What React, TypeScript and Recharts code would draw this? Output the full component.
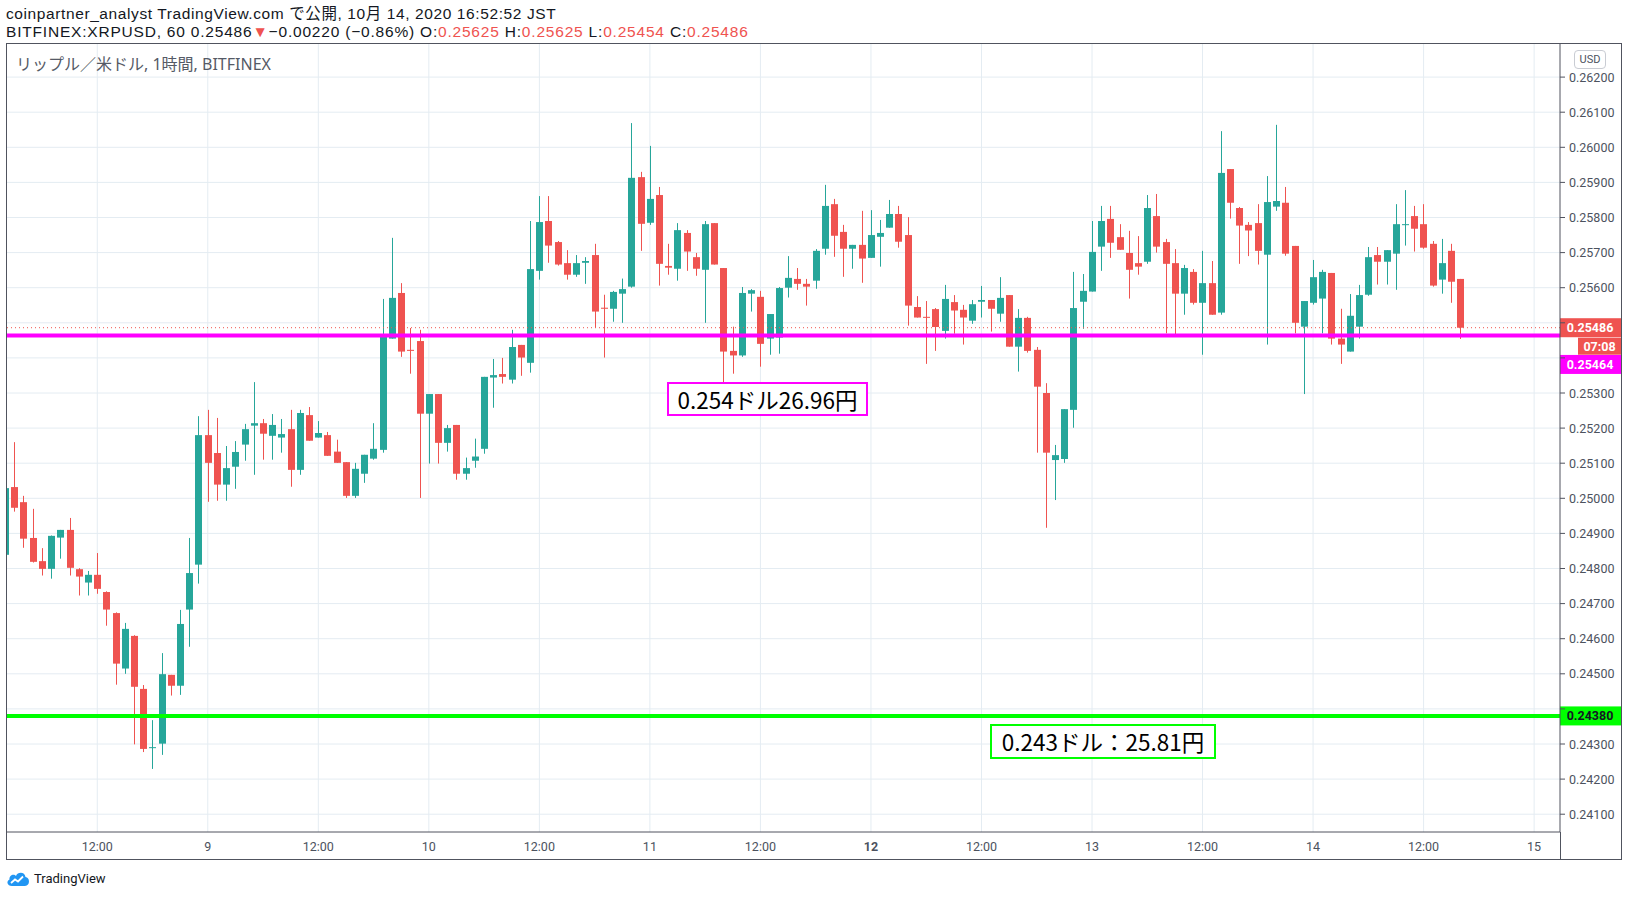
import React from "react";
import {
  ComposedChart,
  Bar,
  XAxis,
  YAxis,
  CartesianGrid,
  ReferenceLine,
} from "recharts";

// hourly candles, first one is 2020-10-08 02:00 JST
// hour offsets are counted from 10/8 12:00
const FIRST_HOUR = -10;

const opens = [
  // 10/8 02:00 - 23:00
  0.24839, 0.25032, 0.24989, 0.24887, 0.24821, 0.24799, 0.24888, 0.2491, 0.24798, 0.2476, 0.24782,
  0.24733, 0.24673, 0.24515, 0.24608, 0.24457, 0.24289, 0.24301, 0.24497, 0.24466, 0.24683, 0.24811,
  // 10/9
  0.2518, 0.25129, 0.25039, 0.2509, 0.25153, 0.25207, 0.25214, 0.25178, 0.25173, 0.25197, 0.25081, 0.25237,
  0.25173, 0.2518, 0.25133, 0.25103, 0.25007, 0.2507, 0.25113, 0.25138, 0.25455, 0.25585, 0.25423, 0.25448,
  // 10/10
  0.25241, 0.25297, 0.25158, 0.25209, 0.2507, 0.25107, 0.25141, 0.25344, 0.25354, 0.25338, 0.25437, 0.25386,
  0.25648, 0.2579, 0.2573, 0.2567, 0.25637, 0.25671, 0.25693, 0.25543, 0.2554, 0.25583, 0.25603, 0.25915,
  // 10/11
  0.25785, 0.25864, 0.25662, 0.25654, 0.25756, 0.25687, 0.25651, 0.25784, 0.25656, 0.2542, 0.25407, 0.25583,
  0.25574, 0.25455, 0.25458, 0.256, 0.25625, 0.25611, 0.2562, 0.25711, 0.25838, 0.25759, 0.25711, 0.25722,
  // 10/12
  0.25685, 0.25745, 0.25771, 0.2581, 0.2575, 0.25545, 0.25517, 0.25539, 0.25477, 0.25559, 0.25537, 0.25506,
  0.2556, 0.25565, 0.25526, 0.25579, 0.25432, 0.25514, 0.25423, 0.253, 0.25109, 0.25112, 0.25252, 0.2556,
  // 10/13
  0.25589, 0.25717, 0.25796, 0.25744, 0.25699, 0.2567, 0.25674, 0.25804, 0.2573, 0.2567, 0.25583, 0.25645,
  0.25557, 0.25613, 0.25529, 0.25938, 0.25827, 0.25779, 0.25784, 0.25694, 0.25831, 0.25842, 0.25719, 0.25489,
  // 10/14 00:00 - 16:00
  0.25557, 0.25569, 0.25642, 0.25455, 0.25418, 0.25489, 0.2558, 0.25693, 0.25674, 0.25697, 0.2578, 0.25804,
  0.25781, 0.25725, 0.25623, 0.25705, 0.25625,
];

const highs = [
  0.25035, 0.2516, 0.25007, 0.2497, 0.24858, 0.24894, 0.2491, 0.24944, 0.24801, 0.24793, 0.24844,
  0.24735, 0.24675, 0.24645, 0.2461, 0.24468, 0.24368, 0.24559, 0.24497, 0.24682, 0.24887, 0.25234,
  0.25252, 0.25229, 0.25149, 0.25163, 0.25212, 0.25331, 0.25226, 0.2524, 0.25226, 0.25252, 0.25252, 0.2526,
  0.2522, 0.25189, 0.25167, 0.25103, 0.25101, 0.25124, 0.25214, 0.25568, 0.25742, 0.25613, 0.25485, 0.2548,
  0.25297, 0.25297, 0.25209, 0.25209, 0.25116, 0.2517, 0.25346, 0.25397, 0.254, 0.2548, 0.25437, 0.2579,
  0.25861, 0.25861, 0.25733, 0.25707, 0.25693, 0.25687, 0.25725, 0.2558, 0.25591, 0.25626, 0.26069, 0.2593,
  0.26004, 0.25887, 0.25725, 0.25784, 0.25764, 0.25699, 0.2579, 0.25784, 0.25656, 0.25489, 0.25602, 0.25596,
  0.25591, 0.25525, 0.25602, 0.2569, 0.25656, 0.25625, 0.2571, 0.25893, 0.25853, 0.25779, 0.25722, 0.25819,
  0.25821, 0.25793, 0.2585, 0.25833, 0.25801, 0.25576, 0.25562, 0.25542, 0.25608, 0.25579, 0.25551, 0.25565,
  0.25605, 0.25565, 0.2563, 0.25579, 0.25539, 0.25517, 0.25431, 0.25328, 0.25152, 0.25254, 0.25645, 0.25639,
  0.2579, 0.25833, 0.25833, 0.25781, 0.25762, 0.25747, 0.25864, 0.25867, 0.25739, 0.2571, 0.25665, 0.25653,
  0.25705, 0.25676, 0.26046, 0.25938, 0.2583, 0.25787, 0.25838, 0.25918, 0.26064, 0.25887, 0.25719, 0.25562,
  0.25679, 0.25651, 0.25642, 0.2554, 0.25582, 0.25608, 0.25716, 0.25716, 0.25707, 0.25838, 0.25878, 0.25833,
  0.25838, 0.25733, 0.25739, 0.25725, 0.25625,
];

const lows = [
  0.24836, 0.24962, 0.24859, 0.24817, 0.2478, 0.24771, 0.24828, 0.2478, 0.24723, 0.24723, 0.24728,
  0.24637, 0.24469, 0.245, 0.24299, 0.24277, 0.24229, 0.24269, 0.24438, 0.2444, 0.24577, 0.24757,
  0.2499, 0.24993, 0.24993, 0.25027, 0.25107, 0.25067, 0.2511, 0.2511, 0.2513, 0.25033, 0.25067, 0.25164,
  0.25173, 0.25121, 0.25101, 0.25001, 0.25001, 0.25044, 0.2511, 0.2513, 0.25455, 0.25403, 0.25355, 0.25001,
  0.25099, 0.25099, 0.25133, 0.25053, 0.25053, 0.25087, 0.25127, 0.25258, 0.25327, 0.25327, 0.25349, 0.25358,
  0.25623, 0.25671, 0.25663, 0.25623, 0.25631, 0.25611, 0.25486, 0.25401, 0.25503, 0.255, 0.256, 0.25705,
  0.25779, 0.25606, 0.25637, 0.2562, 0.25648, 0.25634, 0.255, 0.25666, 0.25313, 0.25355, 0.25403, 0.25532,
  0.25375, 0.25409, 0.25412, 0.25572, 0.25594, 0.25549, 0.25597, 0.25694, 0.25688, 0.25631, 0.25654, 0.25614,
  0.25685, 0.2566, 0.25771, 0.25714, 0.25492, 0.25515, 0.25383, 0.2542, 0.25455, 0.25469, 0.25438, 0.25497,
  0.25515, 0.25475, 0.25503, 0.25432, 0.25361, 0.25415, 0.2513, 0.24916, 0.24995, 0.25101, 0.25201, 0.25483,
  0.25589, 0.25648, 0.25685, 0.25708, 0.25569, 0.25637, 0.25668, 0.257, 0.2547, 0.25465, 0.25523, 0.25552,
  0.25409, 0.25523, 0.25523, 0.25797, 0.25668, 0.2569, 0.25666, 0.25438, 0.25819, 0.25691, 0.2547, 0.25297,
  0.25552, 0.2547, 0.25438, 0.25383, 0.25418, 0.25455, 0.25577, 0.25609, 0.25609, 0.25594, 0.2572, 0.25703,
  0.25711, 0.25603, 0.25583, 0.25557, 0.25454,
];

const closes = [
  0.25029, 0.24973, 0.24885, 0.24819, 0.24799, 0.24893, 0.2491, 0.24802, 0.24777, 0.24782, 0.24742,
  0.24683, 0.24529, 0.24628, 0.24463, 0.24286, 0.24291, 0.24499, 0.24466, 0.24642, 0.24787, 0.2518,
  0.25101, 0.25039, 0.25086, 0.25132, 0.25197, 0.25214, 0.25184, 0.25209, 0.25183, 0.25081, 0.25243, 0.25164,
  0.25186, 0.25121, 0.25101, 0.25007, 0.25084, 0.25124, 0.25141, 0.2546, 0.25571, 0.25418, 0.2542, 0.25241,
  0.25297, 0.25158, 0.252, 0.2507, 0.25086, 0.25119, 0.25346, 0.25351, 0.25346, 0.25431, 0.25401, 0.25653,
  0.25787, 0.2572, 0.25666, 0.25637, 0.2567, 0.25676, 0.25532, 0.2554, 0.25588, 0.25596, 0.25913, 0.25782,
  0.25853, 0.25668, 0.25657, 0.25764, 0.25703, 0.25654, 0.25781, 0.25666, 0.25418, 0.25407, 0.25585, 0.25593,
  0.2544, 0.25525, 0.25599, 0.25628, 0.25611, 0.25603, 0.25705, 0.25833, 0.25748, 0.25711, 0.25722, 0.25683,
  0.2575, 0.25756, 0.2581, 0.25731, 0.25549, 0.25515, 0.25515, 0.25488, 0.25568, 0.25535, 0.25515, 0.25553,
  0.25565, 0.2554, 0.25571, 0.25432, 0.25514, 0.2542, 0.25318, 0.2513, 0.25123, 0.25254, 0.25542, 0.25591,
  0.25702, 0.2579, 0.25728, 0.25708, 0.25651, 0.2566, 0.25827, 0.25717, 0.25668, 0.25583, 0.25656, 0.25557,
  0.25613, 0.25523, 0.25927, 0.25842, 0.25777, 0.25763, 0.25705, 0.25844, 0.25847, 0.25697, 0.255, 0.25562,
  0.2563, 0.25645, 0.25455, 0.25438, 0.2552, 0.25579, 0.25687, 0.25674, 0.25707, 0.25781, 0.25781, 0.25768,
  0.25714, 0.25606, 0.2567, 0.25617, 0.25486,
];

const timeTicks = [0, 12, 24, 36, 48, 60, 72, 84, 96, 108, 120, 132, 144, 156];
const timeLabels = ["12:00", "9", "12:00", "10", "12:00", "11", "12:00", "12", "12:00", "13", "12:00", "14", "12:00", "15"];
const priceTicks = [
  0.241, 0.242, 0.243, 0.244, 0.245, 0.246, 0.247, 0.248, 0.249, 0.25, 0.251,
  0.252, 0.253, 0.254, 0.255, 0.256, 0.257, 0.258, 0.259, 0.26, 0.261, 0.262,
];
// covered by the price tags on the axis
const hiddenTicks = [0.244, 0.254, 0.255];

const LAST_PRICE = 0.25486;
const SUPPORT_HIGH = 0.25464;
const SUPPORT_LOW = 0.2438;

const UP = "#26a69a";
const DOWN = "#ef5350";
const MAGENTA = "#ff00ff";
const LIME = "#00ff00";
const GRID = "#e4ecf2";
const TEXT = "#4c525e";
const FONT = 'Roboto, "Noto Sans", "Noto Sans CJK JP", sans-serif';
const HEAD_FONT = '"Liberation Sans", "Noto Sans CJK JP", sans-serif';
const LEGEND_FONT = '"Noto Sans", "Noto Sans CJK JP", sans-serif';
const JP_FONT = '"Noto Sans CJK JP", "Noto Sans", sans-serif';

const data = opens.map((o, i) => ({
  t: FIRST_HOUR + i,
  o,
  h: highs[i],
  l: lows[i],
  c: closes[i],
  range: [lows[i], highs[i]],
}));

function Candle(props: any) {
  const { x, y, width, height, payload } = props;
  if (!payload || height == null) return null;
  const { o, h, l, c } = payload;
  const color = c >= o ? UP : DOWN;
  const cx = Math.round(x + width / 2) + 0.5;
  const k = h - l > 0 ? height / (h - l) : 0;
  const top = y + (h - Math.max(o, c)) * k;
  const bottom = y + (h - Math.min(o, c)) * k;
  return (
    <g>
      <line x1={cx} x2={cx} y1={y} y2={y + height} stroke={color} strokeWidth={1} />
      <rect x={cx - 3.5} y={top} width={7} height={Math.max(1, bottom - top)} fill={color} />
    </g>
  );
}

function PriceTag(props: any) {
  const { viewBox, text, bg, fg, shift = 0, countdown } = props;
  if (!viewBox) return null;
  const ax = viewBox.x + viewBox.width;
  const cy = viewBox.y + shift;
  return (
    <g>
      <rect x={ax} y={cy - 9.5} width={61} height={19} fill={bg} />
      <text x={ax + 30} y={cy + 4.5} textAnchor="middle" fill={fg} fontSize={12.5} fontWeight={700} fontFamily={FONT}>
        {text}
      </text>
      {countdown && (
        <g>
          <rect x={ax + 18} y={cy + 10} width={43} height={17} fill={bg} />
          <text x={ax + 39.5} y={cy + 23} textAnchor="middle" fill={fg} fontSize={12.5} fontWeight={700} fontFamily={FONT}>
            {countdown}
          </text>
        </g>
      )}
    </g>
  );
}

function PriceTick(props: any) {
  const { x, y, payload } = props;
  if (hiddenTicks.some((v) => Math.abs(v - payload.value) < 1e-7)) return <g />;
  return (
    <text x={x} y={y + 4.5} fill={TEXT} fontSize={12.5} fontFamily={FONT} textAnchor="start">
      {payload.value.toFixed(5)}
    </text>
  );
}

function TimeTick(props: any) {
  const { x, y, payload } = props;
  const i = timeTicks.indexOf(payload.value);
  const label = timeLabels[i];
  return (
    <text x={x} y={y + 11} fill={TEXT} fontSize={12.5} fontFamily={FONT} textAnchor="middle" fontWeight={label === "12" ? 700 : 400}>
      {label}
    </text>
  );
}

function Logo() {
  return (
    <svg width={26} height={18} viewBox="0 0 26 18" style={{ position: "absolute", left: 5, top: 870 }}>
      <path d="M7 16 C2 16 1 11 4.5 9.5 C4 5 9 3.5 11 6 C12.5 1.5 20 1.5 20.5 7 C25 7 25.5 16 20 16 Z" fill="#2196f3" />
      <path d="M6 13 L10 9.5 L13 11.5 L18 6.5" stroke="#fff" strokeWidth={1.8} fill="none" />
    </svg>
  );
}

export default function App() {
  return (
    <div style={{ position: "absolute", left: 0, top: 0, width: 1627, height: 898, background: "#fff", fontFamily: FONT, overflow: "hidden" }}>
      <div
        style={{
          position: "absolute",
          left: 6,
          top: 5,
          fontSize: 15.5,
          lineHeight: "18px",
          letterSpacing: 0.6,
          color: "#131722",
          fontFamily: HEAD_FONT,
          whiteSpace: "nowrap",
        }}
      >
        coinpartner_analyst TradingView.com で公開, 10月 14, 2020 16:52:52 JST
      </div>
      <div
        style={{
          position: "absolute",
          left: 6,
          top: 23,
          fontSize: 15.5,
          lineHeight: "18px",
          letterSpacing: 0.8,
          color: "#131722",
          fontFamily: HEAD_FONT,
          whiteSpace: "nowrap",
        }}
      >
        BITFINEX:XRPUSD, 60 0.25486<span style={{ color: DOWN }}>▼</span>−0.00220 (−0.86%) O:<span style={{ color: DOWN }}>0.25625</span> H:
        <span style={{ color: DOWN }}>0.25625</span> L:<span style={{ color: DOWN }}>0.25454</span> C:<span style={{ color: DOWN }}>0.25486</span>
      </div>

      <ComposedChart width={1627} height={898} data={data} margin={{ top: 44, right: 6, bottom: 39, left: 7 }}>
        <CartesianGrid stroke={GRID} horizontalValues={priceTicks} verticalValues={timeTicks} />
        <XAxis
          dataKey="t"
          type="number"
          domain={[-9.8, 158.81]}
          allowDataOverflow
          ticks={timeTicks}
          tick={<TimeTick />}
          tickLine={false}
          axisLine={{ stroke: "#50535e" }}
          height={27}
          interval={0}
        />
        <YAxis
          orientation="right"
          type="number"
          domain={[0.240493, 0.262943]}
          allowDataOverflow
          ticks={priceTicks}
          tick={<PriceTick />}
          tickSize={5}
          tickMargin={4}
          tickLine={{ stroke: "#50535e" }}
          axisLine={{ stroke: "#50535e" }}
          width={61}
          interval={0}
        />
        <ReferenceLine
          y={SUPPORT_LOW}
          stroke={LIME}
          strokeWidth={4}
          ifOverflow="visible"
          label={<PriceTag text="0.24380" bg={LIME} fg="#131722" />}
        />
        <ReferenceLine y={LAST_PRICE} stroke={DOWN} strokeDasharray="1 3" strokeWidth={1} ifOverflow="visible" />
        <ReferenceLine
          y={SUPPORT_HIGH}
          stroke={MAGENTA}
          strokeWidth={4}
          ifOverflow="visible"
          label={<PriceTag text="0.25464" bg={MAGENTA} fg="#fff" shift={29} />}
        />
        <Bar dataKey="range" barSize={7} shape={<Candle />} isAnimationActive={false} />
        <ReferenceLine
          y={LAST_PRICE}
          stroke="none"
          ifOverflow="visible"
          label={<PriceTag text="0.25486" bg={DOWN} fg="#fff" countdown="07:08" />}
        />
      </ComposedChart>

      {/* chart frame */}
      <div style={{ position: "absolute", left: 6, top: 43, width: 1614, height: 815, border: "1px solid #50535e", pointerEvents: "none" }} />
      <div style={{ position: "absolute", left: 1560, top: 832, width: 1, height: 27, background: "#50535e" }} />

      <div style={{ position: "absolute", left: 16, top: 51, fontSize: 16, color: "#555a66", fontFamily: LEGEND_FONT, whiteSpace: "nowrap" }}>
        リップル／米ドル, 1時間, BITFINEX
      </div>

      <div
        style={{
          position: "absolute",
          left: 1574,
          top: 50,
          width: 30,
          height: 17,
          border: "1px solid #c9ccd3",
          borderRadius: 4,
          fontSize: 11,
          lineHeight: "17px",
          textAlign: "center",
          color: TEXT,
          background: "#fff",
        }}
      >
        USD
      </div>

      <div
        style={{
          position: "absolute",
          left: 667,
          top: 382,
          width: 197,
          height: 30,
          border: `2px solid ${MAGENTA}`,
          background: "#fff",
          fontSize: 22.5,
          lineHeight: "30px",
          textAlign: "center",
          color: "#000",
          fontFamily: JP_FONT,
          whiteSpace: "nowrap",
        }}
      >
        0.254ドル26.96円
      </div>
      <div
        style={{
          position: "absolute",
          left: 990,
          top: 724,
          width: 222,
          height: 31,
          border: `2px solid ${LIME}`,
          background: "#fff",
          fontSize: 22.5,
          lineHeight: "31px",
          textAlign: "center",
          color: "#000",
          fontFamily: JP_FONT,
          whiteSpace: "nowrap",
        }}
      >
        0.243ドル：25.81円
      </div>

      <Logo />
      <div style={{ position: "absolute", left: 34, top: 871, fontSize: 13, color: "#131722", fontFamily: FONT }}>TradingView</div>
    </div>
  );
}
